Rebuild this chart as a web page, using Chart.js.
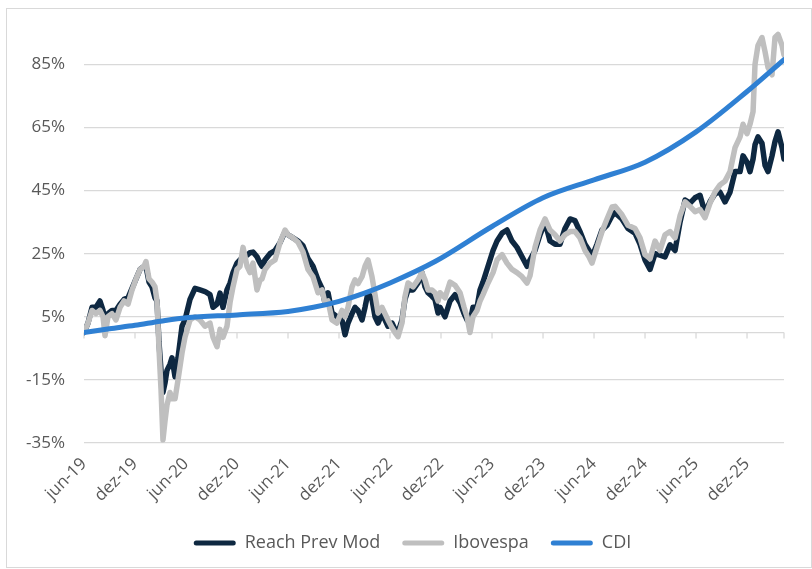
<!DOCTYPE html>
<html>
<head>
<meta charset="utf-8">
<script src="https://cdn.jsdelivr.net/npm/chart.js@4.4.1/dist/chart.umd.min.js"></script>
<style>
  html, body { margin: 0; padding: 0; background: #fff; }
  #frame { position: absolute; left: 6px; top: 8px; width: 804px; height: 558px; border: 1px solid #d9d9d9; }
  canvas { display: block; }
</style>
</head>
<body>
<div id="frame"><canvas id="chart" width="804" height="558"></canvas></div>
<script>
// --- dados ---
// meses desde jun-19
const months = [
  0,0.47,0.94,1.41,1.88,2.24,2.47,2.82,3.29,3.76,
  4.24,4.71,5.18,5.65,6.12,6.59,7.06,7.29,7.65,8.0,
  8.35,8.59,8.82,9.06,9.29,9.53,9.76,10.12,10.35,10.71,
  11.06,11.53,11.88,12.47,13.06,13.65,14.24,14.82,15.18,15.65,
  16.0,16.35,16.82,17.18,17.53,18.0,18.35,18.71,19.18,19.53,
  19.88,20.35,20.71,20.94,21.29,21.88,22.47,23.06,23.65,24.0,
  24.59,25.18,25.76,26.35,26.94,27.53,28.0,28.35,28.71,29.18,
  29.76,30.35,30.71,31.06,31.53,31.88,32.24,32.71,33.06,33.41,
  33.88,34.24,34.59,35.06,35.41,35.76,36.24,36.59,36.94,37.41,
  37.76,38.12,38.71,39.29,39.76,40.12,40.47,40.94,41.29,41.65,
  41.88,42.47,43.06,43.65,44.24,44.71,45.06,45.41,45.76,46.24,
  46.59,46.94,47.53,48.12,48.59,49.18,49.76,50.35,50.94,51.53,
  52.12,52.47,53.06,53.65,54.24,54.82,55.41,56.0,56.59,57.18,
  57.76,58.35,58.94,59.41,59.76,60.35,60.94,61.53,62.12,62.47,
  63.29,64.0,64.82,65.41,66.0,66.59,67.18,67.76,68.35,68.94,
  69.53,70.12,70.71,71.29,71.88,72.47,73.06,73.65,74.24,74.82,
  75.41,76.0,76.59,77.18,77.53,78.0,78.35,78.71,78.94,79.29,
  79.76,80.12,80.47,80.94,81.29,81.65,82.12,82.35
];

const reachPrevMod = [
  0,3,8,8,10,7,4,6,7,7,
  9,10.5,11,14,17,20,21,21,16,14.5,
  11,10,-3,-12,-19,-16,-12,-10,-8,-14,
  -8,2,4,10.5,14,13.5,13,12,8,9,
  12.5,8,13.5,15.7,19,22,23,24,24.5,25.3,
  25.5,24,22,21,23,25,26,28.5,32,31,
  30,29,27.5,23.5,21,16.7,14,9.4,12.6,6.2,
  5,4,-0.7,3,6,8,7,4,8,12.6,
  10.5,5,3,6,4,2,3,1,0,4,
  10.5,13.5,13.5,15.7,19,14.5,12.6,11.5,10.5,6.2,
  8,5,10,12,9.4,6,4,3,8,8,
  13.5,16,21,26,29,31.5,32.5,29,27,24,
  21,23,26,31,35,29,28,28,33,36,
  35.5,32,28,26,24,28,32.5,34,37,38,
  36,33,31.5,28,23,20,25,24.5,24,27.8,
  26,35,42,41,42.7,43.5,38,41.5,44,44.5,
  41.4,44.5,51,51,56,54,51,55,59.5,62,
  60,53,51,56,60.5,63.6,58.6,55
];

const ibovespa = [
  0,3,7,6,7,5,-1,5,6,4,
  8,10,9,13.5,17,20,21,22.5,17,16,
  14.5,10,-5,-18,-34,-28,-23,-19,-21,-21,
  -15,-6.5,-1.5,4,5,4,2,3,-1.5,-4.5,
  1,-1.5,2,9.5,14.5,20,21,27,21,19,
  22,13.5,16.7,17,20,22,23,28.5,32.5,31,
  30,28.6,25.6,20,17.7,12.6,13.5,9.4,10,4,
  3,7,5,8,14.5,16.7,15.5,17.7,21,23,
  17.7,12,6.2,8,6,4,1.5,0,-1.3,3,
  11.4,15.7,14.5,16.7,19,16.7,13.5,13.5,12.6,10,
  12.6,11,16,15,12.6,8,5,0,5,7,
  10,12,15.7,19,23,24.7,22,20,19,17.7,
  15.7,18,27,32.5,36,32.5,31,29,31,32,
  32,30,26,24,22,27,32,36,39.8,40,
  37.3,34,33,30,24.7,23.4,29,26,31,32,
  30,37,41.4,40,38.3,39,36.4,41,44.6,46.8,
  48,51,58.6,62,66,63,66,70,85,91,
  93.5,89,84,81.7,93.5,94.5,91,88
];

const cdiMonths = [0, 3, 6, 9, 12, 18, 24, 27, 30, 33, 36, 41.3, 48, 54, 60, 66, 72, 78, 82.35];
const cdi =       [0, 1.2, 2.3, 3.6, 4.7, 5.6, 6.7, 8.0, 9.9, 12.5, 15.7, 22.5, 33.6, 42.7, 48.4, 54, 63.6, 76.4, 86.5];

const tickLabels = ["jun-19","dez-19","jun-20","dez-20","jun-21","dez-21","jun-22","dez-22","jun-23","dez-23","jun-24","dez-24","jun-25","dez-25"];
const yTicks = [-35, -15, 5, 25, 45, 65, 85];

const FONT = "'Open Sans', sans-serif";
const TXT = "#595959";
const GRID = "#d9d9d9";

function pts(xs, ys) { return xs.map((x, i) => ({ x: x, y: ys[i] })); }

// eixo horizontal em 0% com marcas
const zeroAxis = {
  id: "zeroAxis",
  beforeDatasetsDraw(chart) {
    const { ctx, chartArea } = chart;
    const xs = chart.scales.x, ys = chart.scales.y;
    const y0 = ys.getPixelForValue(0);
    ctx.save();
    ctx.strokeStyle = GRID;
    ctx.lineWidth = 1.3;
    ctx.beginPath();
    ctx.moveTo(chartArea.left, y0);
    ctx.lineTo(chartArea.right, y0);
    tickLabels.forEach((_, i) => {
      const x = xs.getPixelForValue(i * 6);
      ctx.moveTo(x, y0);
      ctx.lineTo(x, y0 + 6);
    });
    ctx.moveTo(chartArea.right, y0);
    ctx.lineTo(chartArea.right, y0 + 6);
    ctx.stroke();
    ctx.restore();
  }
};

// legenda centrada na largura total do quadro
const legendShift = {
  id: "legendShift",
  afterLayout(chart) {
    chart.legend.left += 17;
    chart.legend.right += 17;
  }
};

new Chart(document.getElementById("chart"), {
  type: "line",
  data: {
    datasets: [
      { label: "Reach Prev Mod", data: pts(months, reachPrevMod), borderColor: "#0e2841", backgroundColor: "#0e2841",
        borderWidth: 5.5, pointRadius: 0, tension: 0, order: 3, borderJoinStyle: "round", borderCapStyle: "round" },
      { label: "Ibovespa", data: pts(months, ibovespa), borderColor: "#bfbfbf", backgroundColor: "#bfbfbf",
        borderWidth: 5.5, pointRadius: 0, tension: 0, order: 2, borderJoinStyle: "round", borderCapStyle: "round" },
      { label: "CDI", data: pts(cdiMonths, cdi), borderColor: "#2f80d3", backgroundColor: "#2f80d3",
        borderWidth: 5, pointRadius: 0, cubicInterpolationMode: "monotone", order: 1, borderCapStyle: "round" }
    ]
  },
  options: {
    responsive: false,
    animation: false,
    devicePixelRatio: 1,
    layout: { padding: { left: 0, right: 27, top: 8, bottom: 5 } },
    plugins: {
      tooltip: { enabled: false },
      legend: {
        position: "bottom",
        labels: {
          sort: (a, b) => a.datasetIndex - b.datasetIndex,
          generateLabels: chart => Chart.defaults.plugins.legend.labels.generateLabels(chart)
            .map(l => Object.assign(l, { lineWidth: 0 })),
          boxWidth: 42, boxHeight: 5, useBorderRadius: true, borderRadius: 2.5,
          color: TXT, font: { family: FONT, size: 18 }, padding: 22
        }
      }
    },
    scales: {
      x: {
        type: "linear", min: 0, max: 82.35,
        afterBuildTicks: s => { s.ticks = tickLabels.map((_, i) => ({ value: i * 6 })); },
        afterFit: s => { s.height = 69; s.paddingLeft = 0; s.paddingRight = 0; },
        grid: { display: false }, border: { display: false },
        ticks: {
          callback: v => tickLabels[Math.round(v / 6)],
          minRotation: 45, maxRotation: 45, autoSkip: false,
          color: TXT, font: { family: FONT, size: 17 }, padding: 3
        }
      },
      y: {
        min: -35, max: 100,
        afterBuildTicks: s => { s.ticks = yTicks.map(v => ({ value: v })); },
        afterFit: s => { s.width = 77; s.paddingTop = 0; s.paddingBottom = 0; },
        grid: { color: GRID, lineWidth: 1.3, drawTicks: false }, border: { display: false },
        ticks: { callback: v => v + "%", color: TXT, font: { family: FONT, size: 17 }, padding: 19 }
      }
    }
  },
  plugins: [zeroAxis, legendShift]
});
</script>
</body>
</html>
